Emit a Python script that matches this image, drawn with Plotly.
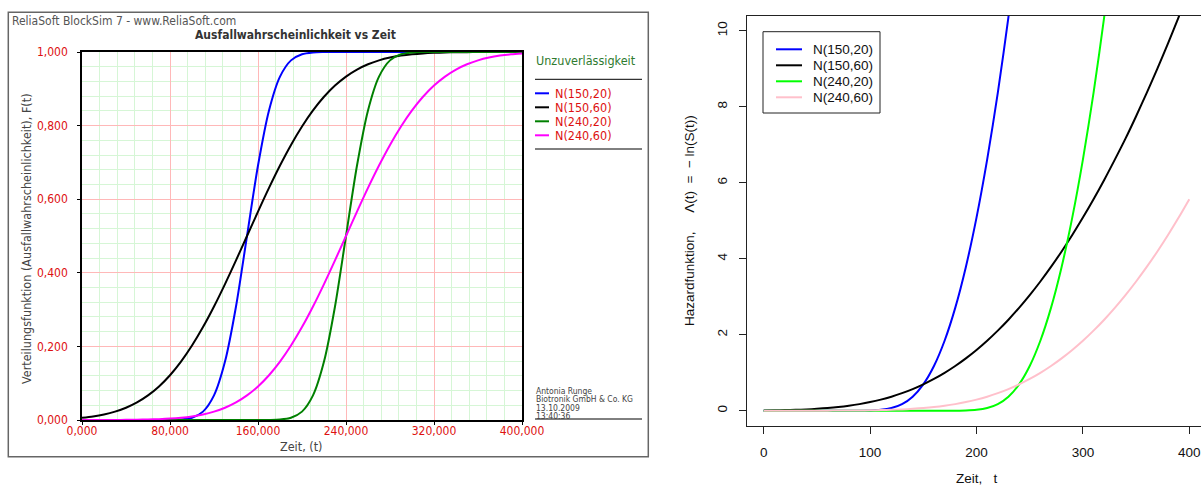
import plotly.graph_objects as go

# ---------------------------------------------------------------------------
# Data
# ---------------------------------------------------------------------------
t_grid = [0, 10, 20, 30, 40, 50, 60, 70, 80, 90, 100, 110, 120, 130, 140, 150,
          160, 170, 180, 190, 200, 210, 220, 230, 240, 250, 260, 270, 280, 290,
          300, 310, 320, 330, 340, 350, 360, 370, 380, 390, 400]

series_names = ["N(150,20)", "N(150,60)", "N(240,20)", "N(240,60)"]

# Unreliability F(t)
F_150_20 = [0.0, 0.0, 0.0, 0.0, 0.0, 0.0, 0.0, 0.00003, 0.00023, 0.00135, 0.00621,
            0.02275, 0.06681, 0.15866, 0.30854, 0.5, 0.69146, 0.84134, 0.93319,
            0.97725, 0.99379, 0.99865, 0.99977, 0.99997, 1.0, 1.0, 1.0, 1.0, 1.0,
            1.0, 1.0, 1.0, 1.0, 1.0, 1.0, 1.0, 1.0, 1.0, 1.0, 1.0, 1.0]
F_150_60 = [0.0062, 0.0098, 0.0151, 0.0228, 0.0334, 0.0478, 0.0668, 0.0912, 0.1217,
            0.1587, 0.2023, 0.2525, 0.3085, 0.3694, 0.4338, 0.5, 0.5662, 0.6306,
            0.6915, 0.7475, 0.7977, 0.8413, 0.8783, 0.9088, 0.9332, 0.9522, 0.9666,
            0.9772, 0.9849, 0.9902, 0.9938, 0.9962, 0.9977, 0.9987, 0.9992, 0.9996,
            0.9998, 0.9999, 0.9999, 1.0, 1.0]
F_240_20 = [0.0, 0.0, 0.0, 0.0, 0.0, 0.0, 0.0, 0.0, 0.0, 0.0, 0.0, 0.0, 0.0, 0.0,
            0.0, 0.0, 0.0, 0.00023, 0.00135, 0.00621, 0.02275, 0.06681, 0.15866,
            0.30854, 0.5, 0.69146, 0.84134, 0.93319, 0.97725, 0.99379, 0.99865,
            0.99977, 0.99997, 1.0, 1.0, 1.0, 1.0, 1.0, 1.0, 1.0, 1.0]
F_240_60 = [0.00003, 0.00006, 0.00012, 0.00023, 0.00043, 0.00077, 0.00135, 0.0023,
            0.0038, 0.0062, 0.0098, 0.0151, 0.0228, 0.0334, 0.0478, 0.0668, 0.0912,
            0.1217, 0.1587, 0.2023, 0.2525, 0.3085, 0.3694, 0.4338, 0.5, 0.5662,
            0.6306, 0.6915, 0.7475, 0.7977, 0.8413, 0.8783, 0.9088, 0.9332, 0.9522,
            0.9666, 0.9772, 0.9849, 0.9902, 0.9938, 0.9962]

# Cumulative hazard  -ln(S(t))
H_150_20 = [0.0, 0.0, 0.0, 0.0, 0.0, 0.0, 0.0, 0.00003, 0.00023, 0.00135, 0.0062,
            0.023, 0.0691, 0.1728, 0.3689, 0.6931, 1.1759, 1.8411, 2.7059, 3.7832,
            5.0816, 6.6077, 8.366, 10.36, 12.59]
H_150_60 = [0.0062, 0.0099, 0.0153, 0.023, 0.034, 0.049, 0.0691, 0.0956, 0.1297,
            0.1728, 0.2261, 0.291, 0.3689, 0.4611, 0.5688, 0.6931, 0.8351, 0.9958,
            1.1759, 1.3764, 1.5979, 1.8411, 2.1065, 2.3946, 2.7059, 3.0409, 3.3998,
            3.7832, 4.1911, 4.6234, 5.0816, 5.5649, 6.0735, 6.6077, 7.16, 7.75,
            8.366, 9.0, 9.667, 10.36, 11.08]
H_240_20 = [0.0, 0.0, 0.0, 0.0, 0.0, 0.0, 0.0, 0.0, 0.0, 0.0, 0.0, 0.0, 0.0, 0.0,
            0.0, 0.0, 0.00003, 0.00023, 0.00135, 0.0062, 0.023, 0.0691, 0.1728,
            0.3689, 0.6931, 1.1759, 1.8411, 2.7059, 3.7832, 5.0816, 6.6077, 8.366,
            10.36, 12.59]
H_240_60 = [0.00003, 0.00006, 0.00012, 0.00023, 0.00043, 0.00078, 0.00135, 0.0023,
            0.0038, 0.0062, 0.0099, 0.0153, 0.023, 0.034, 0.049, 0.0691, 0.0956,
            0.1297, 0.1728, 0.2261, 0.291, 0.3689, 0.4611, 0.5688, 0.6931, 0.8351,
            0.9958, 1.1759, 1.3764, 1.5979, 1.8411, 2.1065, 2.3946, 2.7059, 3.0409,
            3.3998, 3.7832, 4.1911, 4.6234, 5.0816, 5.5649]

# Tick labels (German decimal comma)
left_x_ticks = [0, 80, 160, 240, 320, 400]
left_x_labels = ["0,000", "80,000", "160,000", "240,000", "320,000", "400,000"]
left_y_ticks = [0, 0.2, 0.4, 0.6, 0.8, 1.0]
left_y_labels = ["0,000", "0,200", "0,400", "0,600", "0,800", "1,000"]
right_x_ticks = [0, 100, 200, 300, 400]
right_y_ticks = [0, 2, 4, 6, 8, 10]

left_values = [F_150_20, F_150_60, F_240_20, F_240_60]
right_values = [H_150_20, H_150_60, H_240_20, H_240_60]
left_colors = ["#0000FF", "#000000", "#008000", "#FF00FF"]
right_colors = ["#0000FF", "#000000", "#00FF00", "#FFC0CB"]

# ---------------------------------------------------------------------------
# Page geometry helpers (pixel -> paper)
# ---------------------------------------------------------------------------
W, H = 1201, 488


def px(x):
    return x / W


def py(y):
    return 1 - y / H


TAHOMA = "Tahoma, 'DejaVu Sans Condensed', 'Liberation Sans', sans-serif"
ARIAL = "'Liberation Sans', Arial, Helvetica, sans-serif"
RED = "#DD1111"
GREEN_TXT = "#2E7A2E"

fig = go.Figure()

for name, col, vals in zip(series_names, left_colors, left_values):
    fig.add_trace(go.Scatter(
        x=t_grid[:len(vals)], y=vals, name=name, mode="lines",
        line=dict(color=col, width=2, shape="spline", smoothing=0.8),
        xaxis="x", yaxis="y", showlegend=False, hoverinfo="skip"))

for name, col, vals in zip(series_names, right_colors, right_values):
    fig.add_trace(go.Scatter(
        x=t_grid[:len(vals)], y=vals, name=name, mode="lines",
        line=dict(color=col, width=2, shape="spline", smoothing=0.8),
        xaxis="x2", yaxis="y2", showlegend=False, hoverinfo="skip"))

# ---------------------------------------------------------------------------
# Axes
# ---------------------------------------------------------------------------
left_common = dict(
    showline=True, linecolor="#000000", linewidth=1.6, mirror=True,
    ticks="outside", ticklen=3, tickcolor="#000000",
    tickfont=dict(family=TAHOMA, size=12, color=RED),
    showgrid=True, gridcolor="#FFB8B8", gridwidth=1, zeroline=False,
    automargin=False,
)
right_common = dict(
    showline=True, linecolor="#222222", linewidth=1.2,
    ticks="outside", ticklen=7, tickcolor="#222222", tickwidth=1.2,
    tickfont=dict(family=ARIAL, size=13.5, color="#111111"),
    showgrid=False, zeroline=False, automargin=False,
)

fig.update_layout(
    width=W, height=H,
    margin=dict(l=0, r=0, t=0, b=0, pad=0, autoexpand=False),
    paper_bgcolor="white", plot_bgcolor="white",
    showlegend=False,
    xaxis=dict(
        domain=[px(82), px(522)], range=[0, 400], anchor="y",
        tickmode="array", tickvals=left_x_ticks, ticktext=left_x_labels,
        minor=dict(tickmode="linear", tick0=0, dtick=16, showgrid=True,
                   gridcolor="#D6F6D6", gridwidth=1, ticks=""),
        ticklabelstandoff=-4,
        **left_common),
    yaxis=dict(
        domain=[py(420), py(52)], range=[0, 1], anchor="x",
        tickmode="array", tickvals=left_y_ticks, ticktext=left_y_labels,
        minor=dict(tickmode="linear", tick0=0, dtick=0.04, showgrid=True,
                   gridcolor="#D6F6D6", gridwidth=1, ticks=""),
        ticklabelstandoff=7,
        **left_common),
    xaxis2=dict(
        domain=[px(746.7), 1.0], range=[-16, 411], anchor="y2",
        tickmode="array", tickvals=right_x_ticks, mirror=True,
        ticklabelstandoff=7,
        **right_common),
    yaxis2=dict(
        domain=[py(425.7), py(15.7)], range=[-0.395, 10.395], anchor="x2",
        tickmode="array", tickvals=right_y_ticks, tickangle=-90, mirror=False,
        ticklabelstandoff=6,
        **right_common),
)

# ---------------------------------------------------------------------------
# Frames, separators and legend keys
# ---------------------------------------------------------------------------
shapes = [
    # outer frame of the BlockSim panel
    dict(type="rect", xref="paper", yref="paper",
         x0=px(8.3), x1=px(648.3), y0=py(456.7), y1=py(12.3),
         line=dict(color="#666666", width=1.5)),
]
for yy in (79.3, 149, 419):
    shapes.append(dict(type="line", xref="paper", yref="paper",
                       x0=px(535), x1=px(642), y0=py(yy), y1=py(yy),
                       line=dict(color="#000000", width=1)))

annotations = []
left_key_rows = [93.3, 107.3, 121.3, 135.3]
for name, col, yy in zip(series_names, left_colors, left_key_rows):
    shapes.append(dict(type="line", xref="paper", yref="paper",
                       x0=px(535), x1=px(549), y0=py(yy), y1=py(yy),
                       line=dict(color=col, width=2)))
    annotations.append(dict(x=px(553), y=py(yy), xref="paper", yref="paper",
                            text=name, showarrow=False, xanchor="left",
                            yanchor="middle",
                            font=dict(family=TAHOMA, size=12.5, color=RED)))

# R-style legend box
shapes.append(dict(type="rect", xref="paper", yref="paper",
                   x0=px(763), x1=px(880), y0=py(113), y1=py(31.7),
                   line=dict(color="#222222", width=1)))
right_key_rows = [49.3, 65.3, 81.3, 97.3]
for name, col, yy in zip(series_names, right_colors, right_key_rows):
    shapes.append(dict(type="line", xref="paper", yref="paper",
                       x0=px(776), x1=px(802), y0=py(yy), y1=py(yy),
                       line=dict(color=col, width=2)))
    annotations.append(dict(x=px(811), y=py(yy), xref="paper", yref="paper",
                            text=name, showarrow=False, xanchor="left",
                            yanchor="middle",
                            font=dict(family=ARIAL, size=13.5, color="#111111")))

# ---------------------------------------------------------------------------
# Texts
# ---------------------------------------------------------------------------
def note(x, y, text, size, color, family=TAHOMA, xanchor="left", angle=0,
         yanchor="middle"):
    annotations.append(dict(x=px(x), y=py(y), xref="paper", yref="paper",
                            text=text, showarrow=False, xanchor=xanchor,
                            yanchor=yanchor, textangle=angle,
                            font=dict(family=family, size=size, color=color)))


note(10, 20.7, "ReliaSoft BlockSim 7 - www.ReliaSoft.com", 12, "#555555")
note(295, 35, "<b>Ausfallwahrscheinlichkeit vs Zeit</b>", 12, "#333333",
     xanchor="center")
note(534, 60, "Unzuverlässigkeit", 12.5, GREEN_TXT)
note(301, 446.7, "Zeit, (t)", 12.5, "#444444", xanchor="center")
note(26, 239, "Verteilungsfunktion (Ausfallwahrscheinlichkeit), F(t)", 12.5,
     "#444444", xanchor="center", angle=-90)
for yy, txt in zip([391, 399.3, 407.8, 416],
                   ["Antonia Runge", "Biotronik GmbH &amp; Co. KG",
                    "13.10.2009", "13:40:36"]):
    note(534, yy, txt, 8.5, "#444444")

nb = "\u00a0"
note(690, 221,
     "Hazardfunktion," + nb * 5 + "Λ(t)" + nb * 2 + "=" + nb * 2 + "−"
     + nb + "ln(S(t))",
     13.5, "#111111", family=ARIAL, xanchor="center", angle=-90)
note(976.5, 488, "Zeit," + nb * 3 + "t", 13.5, "#111111", family=ARIAL,
     xanchor="center", yanchor="bottom")

fig.update_layout(shapes=shapes, annotations=annotations)

fig.write_html("out.html")
